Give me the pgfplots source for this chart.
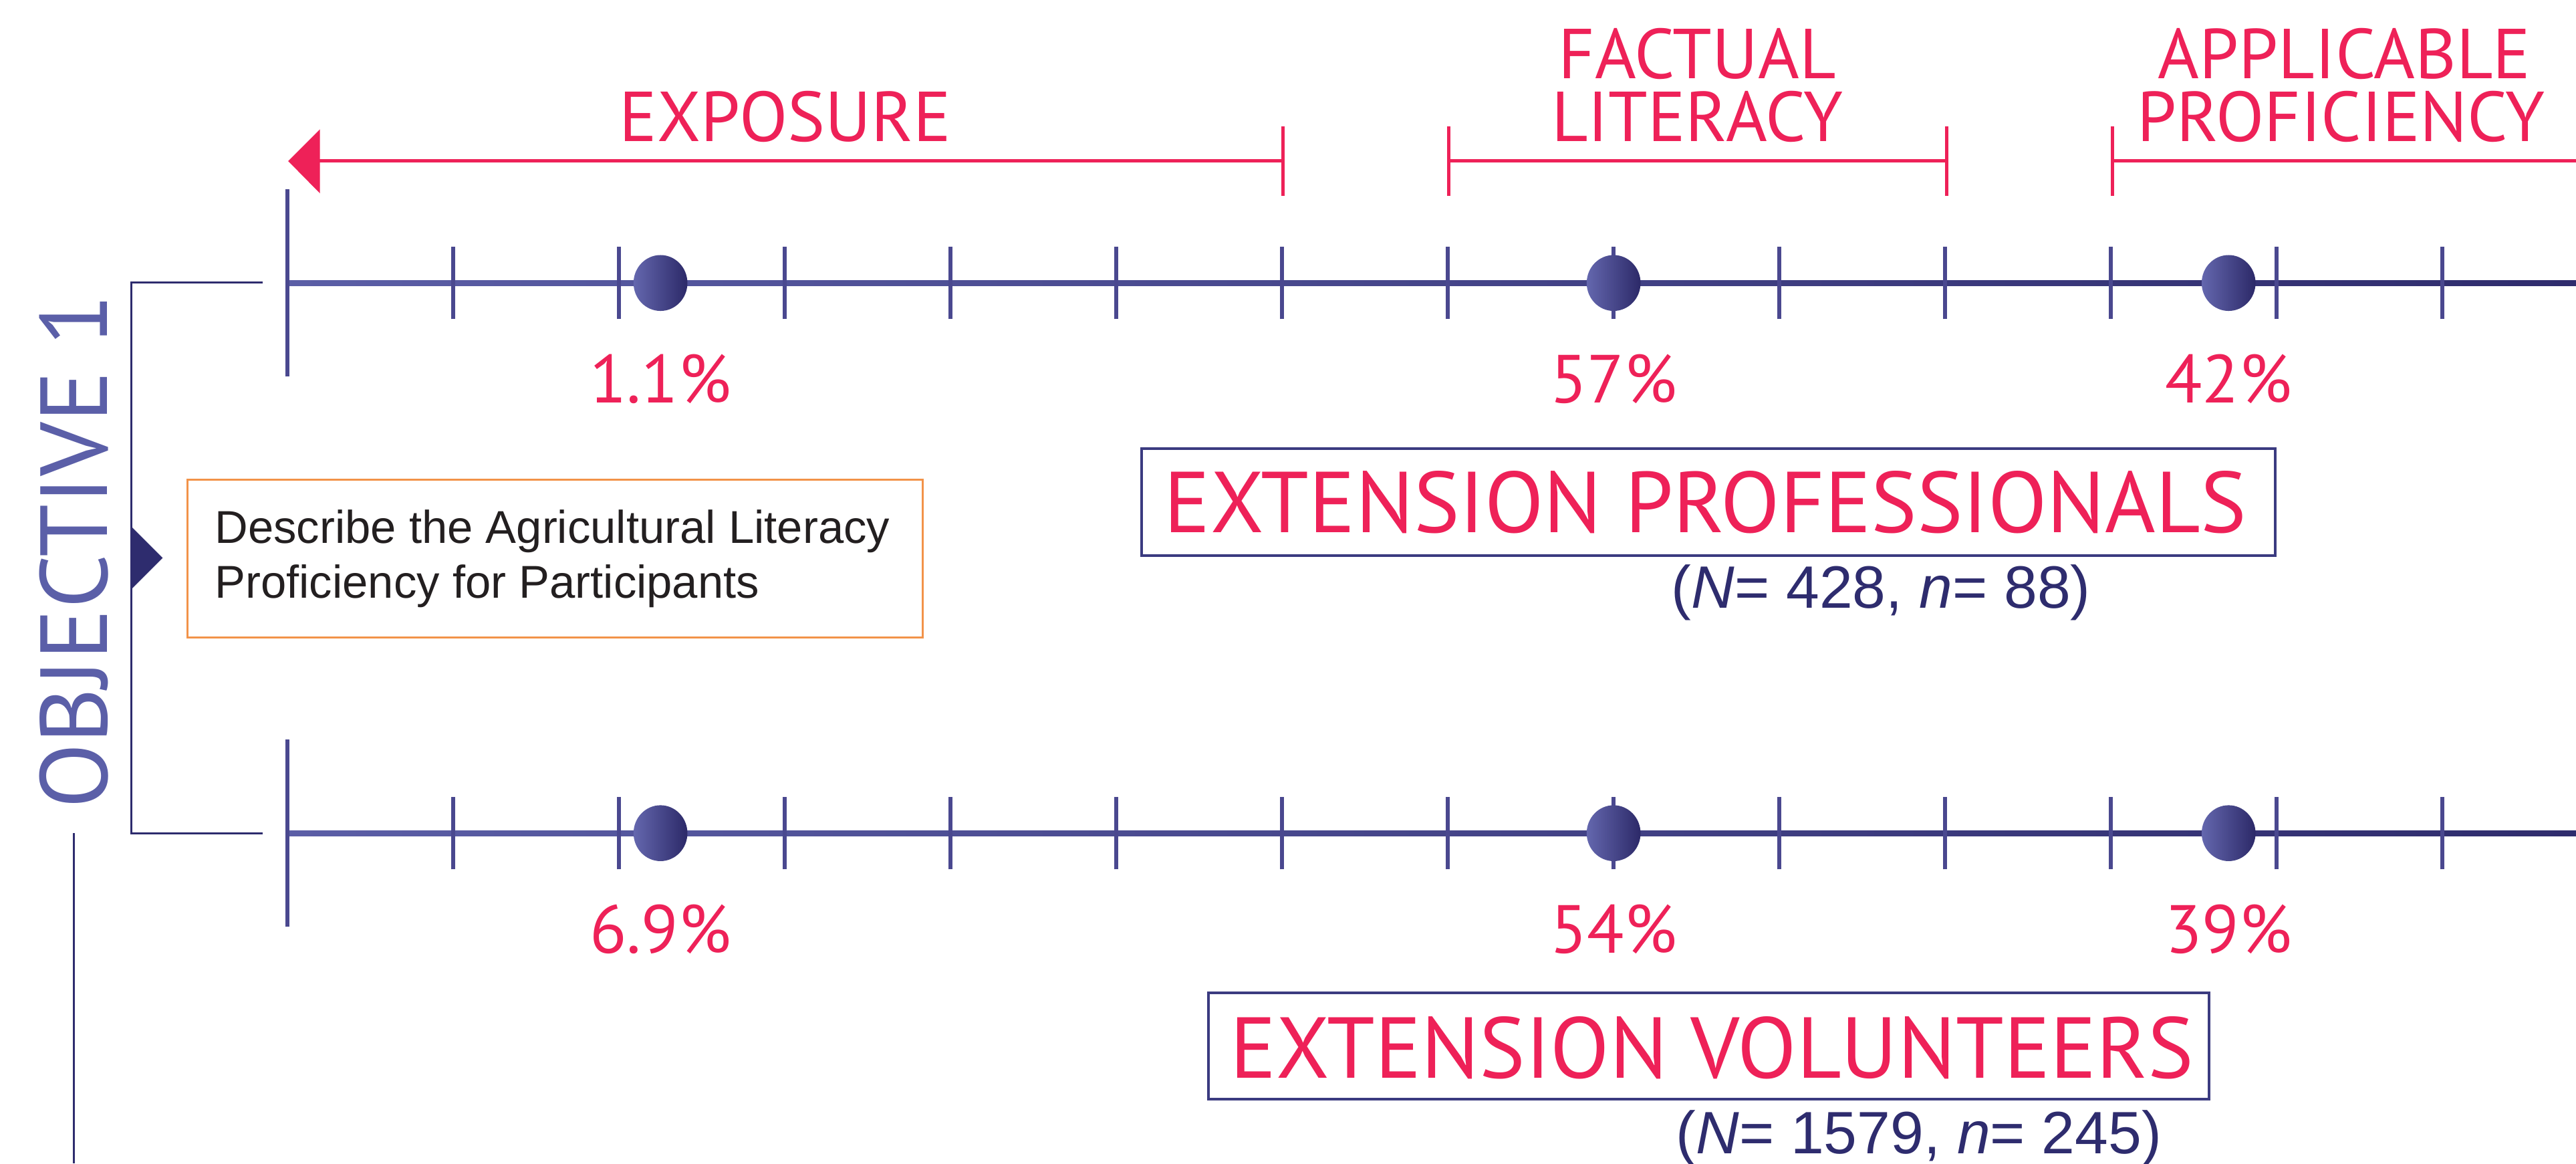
\documentclass[border=0pt]{standalone}
\usepackage{pgfplots}
\pgfplotsset{compat=1.18}
\usepackage{fontspec}
\setmainfont{Liberation Sans}
\newfontfamily\myr{PT Sans}
\definecolor{pinkC}{HTML}{EE2158}
\definecolor{navyC}{HTML}{2E2C6E}
\definecolor{lineL}{HTML}{5B5EA6}
\definecolor{lineR}{HTML}{2F2C6D}
\definecolor{tickC}{HTML}{4A488F}
\definecolor{objC}{HTML}{5B5FA8}
\definecolor{orangeC}{HTML}{F29349}
\definecolor{dotL}{HTML}{6467AE}
\definecolor{dotR}{HTML}{2C2968}
\definecolor{txtC}{HTML}{231F20}
\pgfdeclarehorizontalshading{dotshade}{100bp}{color(0bp)=(dotL); color(25bp)=(dotL); color(75bp)=(dotR); color(100bp)=(dotR)}
\pgfdeclareplotmark{gdot}{%
  \pgfpathellipse{\pgfpointorigin}{\pgfqpoint{8.2pt}{0pt}}{\pgfqpoint{0pt}{8.5pt}}%
  \pgfshadepath{dotshade}{0}%
  \pgfusepath{discard}%
}
\pgfplotsset{numline/.style={
  scale only axis, width=696.2pt, height=40pt,
  xmin=0, xmax=13.8, ymin=-1, ymax=1,
  axis x line*=middle, axis y line=none,
  x axis line style={draw=none},
  xtick={1,...,13}, xticklabels={},
  tick align=center, major tick length=22pt,
  tick style={line width=1.25pt, draw=tickC},
  extra x ticks={0}, extra x tick labels={},
  extra x tick style={major tick length=57pt},
  clip=false,
}}
\pgfplotsset{dots/.style={only marks, mark=gdot,
  point meta=explicit symbolic, nodes near coords,
  nodes near coords style={font=\myr\fontsize{20.7}{20.7}\selectfont, text=pinkC, anchor=center, yshift=-29.2pt}}}
\begin{document}
\begin{tikzpicture}
\useasboundingbox (0,0) rectangle (784pt,-354pt);
\begin{scope}[x=0.5pt,y=-0.5pt]
% number-line bars (gradient, drawn behind the axes' ticks)
\shade[left color=lineL, right color=lineR] (175,170.5) rectangle (1568,173.9);
\shade[left color=lineL, right color=lineR] (175,505.3) rectangle (1568,508.7);
\end{scope}
\begin{axis}[numline, at={(87.5pt,-86.1pt)}, anchor=west]
\addplot[dots] coordinates {(2.25,0) [1.1\%] (8,0) [57\%] (11.71,0) [42\%]};
\end{axis}
\begin{axis}[numline, at={(87.5pt,-253.5pt)}, anchor=west]
\addplot[dots] coordinates {(2.25,0) [6.9\%] (8,0) [54\%] (11.71,0) [39\%]};
\end{axis}
\begin{scope}[x=0.5pt,y=-0.5pt]
% pink range brackets
\draw[pinkC, line width=1pt] (190,98) -- (781,98);
\fill[pinkC] (175.4,98) -- (194.7,78.7) -- (194.7,117.6) -- cycle;
\draw[pinkC, line width=1pt] (781,77) -- (781,119);
\draw[pinkC, line width=1pt] (882,77) -- (882,119) (882,98) -- (1185,98) (1185,77) -- (1185,119);
\draw[pinkC, line width=1pt] (1286,77) -- (1286,119) (1286,98) -- (1568,98);
\begin{scope}[every node/.style={anchor=base, text=pinkC, inner sep=0pt, font=\myr\fontsize{21.5}{21.5}\selectfont}]
\node at (478,86) {EXPOSURE};
\node at (1033,48) {FACTUAL};
\node at (1033,86) {LITERACY};
\node at (1427,48) {APPLICABLE};
\node at (1425,86) {PROFICIENCY};
\end{scope}
% group boxes
\draw[navyC!70!objC, line width=0.8pt] (695,273) rectangle (1385,338);
\node[anchor=base, text=pinkC, inner sep=0pt, font=\myr\fontsize{26.3}{26.3}\selectfont] at (1038,324) {EXTENSION PROFESSIONALS};
\node[anchor=base, text=navyC, inner sep=0pt, font=\fontsize{18.2}{18.2}\selectfont] at (1145,370) {(\textit{N}= 428, \textit{n}= 88)};
\draw[navyC!70!objC, line width=0.8pt] (735.5,604) rectangle (1344.6,669);
\node[anchor=base, text=pinkC, inner sep=0pt, font=\myr\fontsize{26.3}{26.3}\selectfont] at (1042,656) {EXTENSION VOLUNTEERS};
\node[anchor=base, text=navyC, inner sep=0pt, font=\fontsize{18.2}{18.2}\selectfont] at (1168,702) {(\textit{N}= 1579, \textit{n}= 245)};
% objective
\node[rotate=90, text=objC, inner sep=0pt, font=\myr\fontsize{29}{29}\selectfont, anchor=center] at (45,335.5) {OBJECTIVE 1};
\draw[navyC, line width=0.6pt] (160,172) -- (80,172) -- (80,507) -- (160,507);
\fill[navyC] (80,320.5) -- (99,339.5) -- (80,358.5) -- cycle;
\draw[navyC, line width=0.5pt] (45,507) -- (45,708);
\draw[orangeC, line width=0.6pt] (114,292) rectangle (561.5,388);
\node[anchor=base west, text=txtC, inner sep=0pt, font=\fontsize{14}{14}\selectfont] at (130.4,330.5) {Describe the Agricultural Literacy};
\node[anchor=base west, text=txtC, inner sep=0pt, font=\fontsize{14}{14}\selectfont] at (130.4,364) {Proficiency for Participants};
\end{scope}
\end{tikzpicture}
\end{document}
